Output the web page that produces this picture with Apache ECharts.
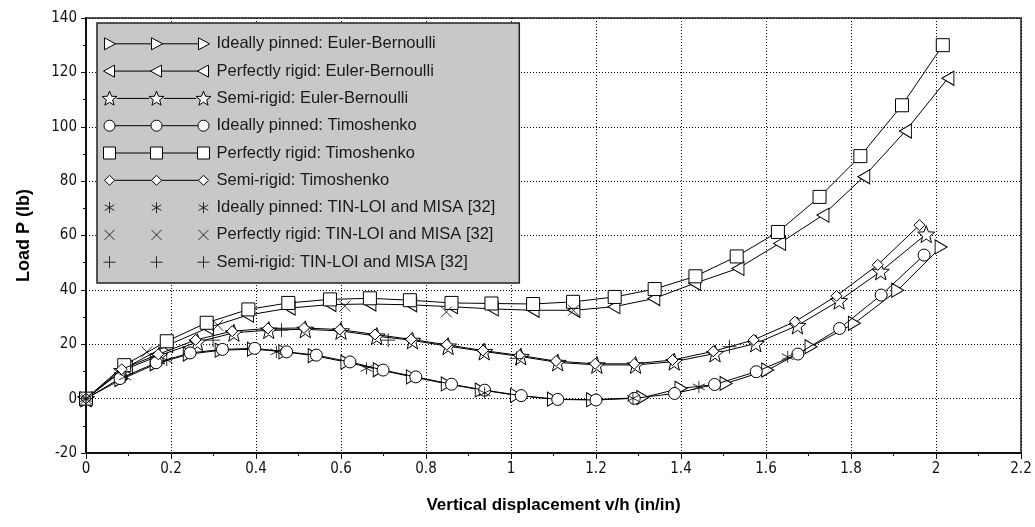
<!DOCTYPE html>
<html>
<head>
<meta charset="utf-8">
<script src="https://cdn.jsdelivr.net/npm/echarts@6/dist/echarts.min.js"></script>
<style>
html,body{margin:0;padding:0;background:#fff;}
#chart{width:1035px;height:527px;}
</style>
</head>
<body>
<div id="chart"></div>
<script>
// ---- data (x = v/h, y = load P) ----
const seriesNames = [
  'Ideally pinned: Euler-Bernoulli',
  'Perfectly rigid: Euler-Bernoulli',
  'Semi-rigid: Euler-Bernoulli',
  'Ideally pinned: Timoshenko',
  'Perfectly rigid: Timoshenko',
  'Semi-rigid: Timoshenko',
  'Ideally pinned: TIN-LOI and MISA [32]',
  'Perfectly rigid: TIN-LOI and MISA [32]',
  'Semi-rigid: TIN-LOI and MISA [32]'
];
const pinnedEB = [[0,0],[0.082,7.0],[0.165,12.8],[0.243,16.4],[0.318,17.8],[0.394,18.2],[0.468,17.2],[0.537,15.8],[0.614,13.4],[0.69,10.6],[0.768,8.0],[0.85,5.4],[0.93,3.2],[1.013,1.2],[1.1,-0.2],[1.192,-0.4],[1.31,0.4],[1.4,3.8],[1.506,5.6],[1.604,10.5],[1.706,19.1],[1.808,27.7],[1.91,39.9],[2.012,55.8]];
const rigidEB = [[0,0],[0.095,11.5],[0.19,19.5],[0.286,26.0],[0.38,30.7],[0.478,33.3],[0.574,34.6],[0.668,34.8],[0.764,34.5],[0.86,33.8],[0.956,33.0],[1.052,32.5],[1.148,32.5],[1.242,33.8],[1.336,36.8],[1.432,42.4],[1.534,47.9],[1.632,57.1],[1.734,67.5],[1.83,81.6],[1.928,98.4],[2.028,117.8]];
const semiEB = [[0,0],[0.085,10.3],[0.172,15.8],[0.262,20.8],[0.348,24.2],[0.43,25.2],[0.516,25.5],[0.6,24.9],[0.684,23.0],[0.768,21.4],[0.852,19.3],[0.937,17.3],[1.023,15.5],[1.11,13.3],[1.202,12.4],[1.293,12.4],[1.384,13.6],[1.48,16.6],[1.576,20.3],[1.674,26.9],[1.772,36.0],[1.87,46.8],[1.977,60.5]];
const pinnedTim = [[0,0],[0.08,7.4],[0.165,13.2],[0.245,16.8],[0.321,18.1],[0.397,18.5],[0.472,17.2],[0.542,16.0],[0.621,13.5],[0.699,10.5],[0.776,8.0],[0.86,5.3],[0.938,3.1],[1.024,1.1],[1.11,-0.3],[1.2,-0.5],[1.29,0.1],[1.385,1.9],[1.479,5.2],[1.577,9.9],[1.675,16.4],[1.773,25.8],[1.871,38.1],[1.972,52.8]];
const rigidTim = [[0,0],[0.09,12.3],[0.19,21.1],[0.284,27.9],[0.382,32.8],[0.476,35.2],[0.574,36.5],[0.668,36.9],[0.762,36.2],[0.86,35.2],[0.954,35.0],[1.052,34.8],[1.146,35.6],[1.244,37.4],[1.338,40.3],[1.434,45.0],[1.531,52.3],[1.628,61.3],[1.726,74.2],[1.822,89.2],[1.92,107.9],[2.016,130.0]];
const semiTim = [[0,0],[0.084,10.8],[0.17,16.3],[0.258,21.6],[0.344,24.8],[0.428,25.8],[0.513,26.0],[0.597,25.4],[0.68,23.6],[0.765,21.8],[0.849,19.8],[0.934,17.7],[1.02,15.9],[1.106,13.8],[1.198,12.8],[1.29,12.8],[1.38,14.2],[1.476,17.4],[1.571,21.6],[1.668,28.3],[1.766,37.8],[1.863,49.2],[1.961,63.8]];
const pinnedTL = [[0,0],[0.092,8.0],[0.19,14.2],[0.448,17.2],[0.66,11.1],[0.938,2.1],[1.287,0.1],[1.442,4.3],[1.651,15.4]];
const rigidTL = [[0,0],[0.143,17.2],[0.31,27.0],[0.609,34.0],[0.848,31.9],[1.147,32.5]];
const semiTL = [[0,0],[0.299,21.5],[0.46,25.2],[0.711,21.5],[1.013,14.8],[1.514,19.1]];

const xAxisMin = 0, xAxisMax = 2.2, xAxisStep = 0.2;
const yAxisMin = -20, yAxisMax = 140, yAxisStep = 20;
const xTitle = 'Vertical displacement v/h (in/in)';
const yTitle = 'Load P (lb)';

// ---- marker shapes ----
const STAR = 'path://M10 0 L12.47 6.6 L19.51 6.91 L14 11.3 L15.88 18.09 L10 14.2 L4.12 18.09 L6 11.3 L0.49 6.91 L7.53 6.6 Z';
const SYM = {
  rtri: {symbol: 'path://M0 0 L12 7 L0 14 Z', size: [12, 14], hw: 5.5},
  ltri: {symbol: 'path://M12 0 L0 7 L12 14 Z', size: [12, 14], hw: 5.5},
  star: {symbol: STAR, size: 17, hw: 7.5},
  circ: {symbol: 'circle', size: 12, hw: 5.5},
  rect: {symbol: 'rect', size: 13, hw: 6},
  diam: {symbol: 'diamond', size: 11, hw: 5},
  ast:  {symbol: 'path://M5 0 L5 11 M0.24 2.75 L9.76 8.25 M0.24 8.25 L9.76 2.75', size: 12, hw: 5},
  cross:{symbol: 'path://M0 0 L10 10 M10 0 L0 10', size: 11, hw: 5},
  plus: {symbol: 'path://M0 6 L12 6 M6 0 L6 12', size: 14, hw: 6}
};
function markerPath(kind, cx, cy) {
  const f = v => v.toFixed(2);
  switch (kind) {
    case 'rtri': return `M${f(cx-5)} ${f(cy-6)} L${f(cx+6)} ${f(cy)} L${f(cx-5)} ${f(cy+6)} Z`;
    case 'ltri': return `M${f(cx+5)} ${f(cy-6)} L${f(cx-6)} ${f(cy)} L${f(cx+5)} ${f(cy+6)} Z`;
    case 'star': {
      let s = '';
      for (let k = 0; k < 10; k++) {
        const a = (-90 + 36 * k) * Math.PI / 180;
        const r = k % 2 === 0 ? 7.8 : 3.3;
        s += (k === 0 ? 'M' : 'L') + f(cx + r * Math.cos(a)) + ' ' + f(cy + 0.5 + r * Math.sin(a)) + ' ';
      }
      return s + 'Z';
    }
    case 'circ': return `M${f(cx+5.5)} ${f(cy)} A5.5 5.5 0 1 1 ${f(cx-5.5)} ${f(cy)} A5.5 5.5 0 1 1 ${f(cx+5.5)} ${f(cy)} Z`;
    case 'rect': return `M${f(cx-6)} ${f(cy-6)} L${f(cx+6)} ${f(cy-6)} L${f(cx+6)} ${f(cy+6)} L${f(cx-6)} ${f(cy+6)} Z`;
    case 'diam': return `M${f(cx)} ${f(cy-5)} L${f(cx+5)} ${f(cy)} L${f(cx)} ${f(cy+5)} L${f(cx-5)} ${f(cy)} Z`;
    case 'ast': return `M${f(cx)} ${f(cy-5.5)} L${f(cx)} ${f(cy+5.5)} M${f(cx-4.76)} ${f(cy-2.75)} L${f(cx+4.76)} ${f(cy+2.75)} M${f(cx-4.76)} ${f(cy+2.75)} L${f(cx+4.76)} ${f(cy-2.75)}`;
    case 'cross': return `M${f(cx-5)} ${f(cy-5)} L${f(cx+5)} ${f(cy+5)} M${f(cx+5)} ${f(cy-5)} L${f(cx-5)} ${f(cy+5)}`;
    case 'plus': return `M${f(cx-6)} ${f(cy)} L${f(cx+6)} ${f(cy)} M${f(cx)} ${f(cy-6)} L${f(cx)} ${f(cy+6)}`;
  }
}
const ICON_W = 110, ICON_H = 16, CENTERS = [8, 55, 102];
function legendIcon(kind, withLine) {
  const cy = 8;
  let p = `M0 0 M${ICON_W} ${ICON_H} `;
  CENTERS.forEach(cx => { p += markerPath(kind, cx, cy) + ' '; });
  if (withLine) {
    const hw = SYM[kind].hw;
    for (let i = 0; i < 2; i++) {
      p += `M${(CENTERS[i] + hw).toFixed(2)} ${cy} L${(CENTERS[i + 1] - hw).toFixed(2)} ${cy} `;
    }
  }
  return 'path://' + p.trim();
}

const defs = [
  {data: pinnedEB, kind: 'rtri', line: true},
  {data: rigidEB, kind: 'ltri', line: true},
  {data: semiEB, kind: 'star', line: true},
  {data: pinnedTim, kind: 'circ', line: true},
  {data: rigidTim, kind: 'rect', line: true},
  {data: semiTim, kind: 'diam', line: true},
  {data: pinnedTL, kind: 'ast', line: false},
  {data: rigidTL, kind: 'cross', line: false},
  {data: semiTL, kind: 'plus', line: false}
];

const markerStyle = {color: '#fff', borderColor: '#000', borderWidth: 1, opacity: 1};
const series = defs.map((d, i) => {
  const base = {
    name: seriesNames[i],
    data: d.data,
    symbol: SYM[d.kind].symbol,
    symbolSize: SYM[d.kind].size,
    itemStyle: d.line ? markerStyle : {color: '#000', borderColor: '#000', borderWidth: 1},
    z: 2 + i,
    emphasis: {disabled: true},
    silent: true
  };
  if (d.line) {
    return Object.assign(base, {
      type: 'line',
      showAllSymbol: true,
      lineStyle: {color: '#000', width: 1},
      symbolKeepAspect: false
    });
  }
  return Object.assign(base, {type: 'scatter'});
});

const legendData = defs.map((d, i) => ({
  name: seriesNames[i],
  icon: legendIcon(d.kind, d.line),
  itemStyle: {color: '#fff', borderColor: '#000', borderWidth: 1}
}));

const chart = echarts.init(document.getElementById('chart'), null, {renderer: 'canvas'});
const tickFont = "'Liberation Sans Narrow', 'DejaVu Sans Condensed', 'Liberation Sans', sans-serif";
const textFont = "'Liberation Sans', Arial, sans-serif";
chart.setOption({
  animation: false,
  backgroundColor: '#fff',
  grid: {left: 86, right: 14, top: 18, bottom: 74, show: true, borderColor: '#555', borderWidth: 2, backgroundColor: 'transparent'},
  legend: {
    orient: 'vertical',
    left: 97, top: 23,
    padding: [12.3, 24, 12.3, 4],
    itemWidth: ICON_W, itemHeight: ICON_H, itemGap: 10.3,
    backgroundColor: '#c8c8c8',
    borderColor: '#222', borderWidth: 1.5,
    selectedMode: false,
    textStyle: {fontFamily: textFont, fontSize: 16.5, lineHeight: 16, color: '#1a1a1a', padding: [0, 0, 0, 0]},
    data: legendData,
    z: 20
  },
  xAxis: {
    type: 'value', min: xAxisMin, max: xAxisMax, interval: xAxisStep,
    name: xTitle, nameLocation: 'middle', nameGap: 44,
    nameTextStyle: {fontFamily: textFont, fontSize: 17, fontWeight: 'bold', color: '#000'},
    axisLine: {show: true, onZero: false, lineStyle: {color: '#111', width: 2}},
    axisTick: {show: true, inside: false, length: 6, lineStyle: {color: '#111', width: 1}},
    minorTick: {show: true, splitNumber: 2, length: 3, lineStyle: {color: '#111', width: 1}},
    axisLabel: {margin: 9, fontFamily: tickFont, fontSize: 15, color: '#111'},
    splitLine: {show: true, lineStyle: {color: '#000', width: 1, type: [1, 2]}}
  },
  yAxis: {
    type: 'value', min: yAxisMin, max: yAxisMax, interval: yAxisStep,
    name: yTitle, nameLocation: 'middle', nameGap: 53, nameRotate: 90,
    nameTextStyle: {fontFamily: textFont, fontSize: 18, fontWeight: 'bold', color: '#000'},
    axisLine: {show: true, onZero: false, lineStyle: {color: '#111', width: 2}},
    axisTick: {show: true, inside: false, length: 5, lineStyle: {color: '#111', width: 1}},
    minorTick: {show: true, splitNumber: 2, length: 3, lineStyle: {color: '#111', width: 1}},
    axisLabel: {margin: 9, fontFamily: tickFont, fontSize: 15, color: '#111'},
    splitLine: {show: true, lineStyle: {color: '#000', width: 1, type: [1, 2]}}
  },
  series: series
});
</script>
</body>
</html>
